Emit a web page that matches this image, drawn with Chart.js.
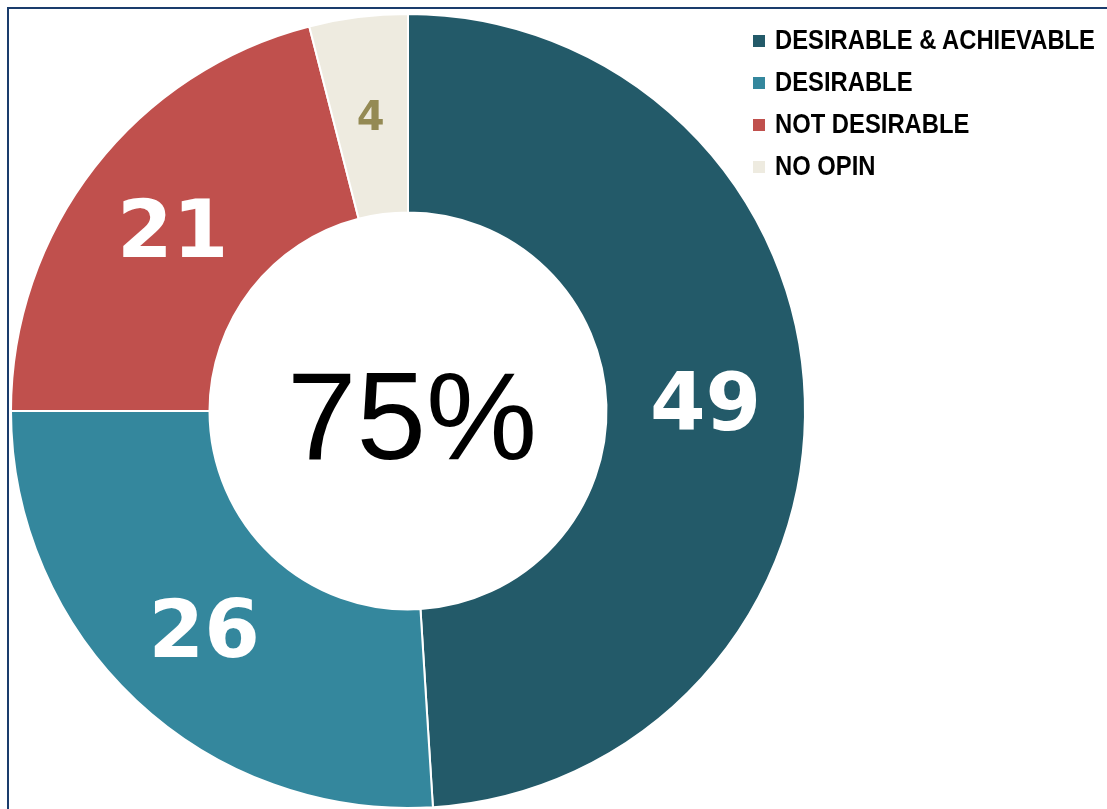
<!DOCTYPE html>
<html>
<head>
<meta charset="utf-8">
<script src="https://cdn.jsdelivr.net/npm/chart.js@4/dist/chart.umd.min.js"></script>
<style>
  html, body { margin: 0; padding: 0; background: #fff; overflow: hidden; }
  #wrap { position: relative; width: 1107px; height: 809px; overflow: hidden; }
  #frame { position: absolute; left: 7px; top: 7px; width: 1200px; height: 900px; border: 2px solid #1A3C6C; }
  #myChart { position: absolute; left: 0; top: 0; }
  #legend { position: absolute; left: 753px; top: 26px; font-family: "Liberation Sans", Arial, sans-serif; font-weight: bold; font-size: 28px; color: #000; }
  #legend div { height: 42px; line-height: 28px; white-space: nowrap; }
  #legend span.box { display: inline-block; width: 12px; height: 12px; margin-right: 10px; vertical-align: 2px; }
  #legend span.txt { display: inline-block; transform: scaleX(0.85); transform-origin: 0 50%; }
</style>
</head>
<body>
<div id="wrap">
  <div id="frame"></div>
  <canvas id="myChart" width="1107" height="809"></canvas>
  <div id="legend"></div>
</div>
<script>
const labels = ['DESIRABLE & ACHIEVABLE', 'DESIRABLE', 'NOT DESIRABLE', 'NO OPIN']
const values = [49, 26, 21, 4]
const colors = ['#235A69', '#34879D', '#C0504D', '#EEEBE0']
const labelColors = ['#ffffff', '#ffffff', '#ffffff', '#948A54']
const labelSizes = [80, 80, 80, 40]
const centerText = '75%'

// draws the numbers on the slices and the big text in the hole
const sliceLabels = {
    id: 'sliceLabels',
    afterDatasetsDraw(chart) {
        const ctx = chart.ctx
        const meta = chart.getDatasetMeta(0)
        ctx.save()
        ctx.textAlign = 'center'
        ctx.textBaseline = 'middle'
        meta.data.forEach((arc, i) => {
            const p = arc.tooltipPosition()
            ctx.fillStyle = labelColors[i]
            ctx.font = 'bold ' + labelSizes[i] + 'px "DejaVu Sans", sans-serif'
            ctx.fillText(values[i], p.x, p.y + (i == 3 ? 4 : 8))
        })
        const c = meta.data[0]
        ctx.fillStyle = '#000'
        ctx.font = '125px "Liberation Sans", Arial, sans-serif'
        ctx.fillText(centerText, c.x + 4, c.y + 14)
        ctx.restore()
    }
}

const ctx = document.getElementById('myChart').getContext('2d')
const myChart = new Chart(ctx, {
    type: 'doughnut',
    data: {
        labels: labels,
        datasets: [{
            data: values,
            backgroundColor: colors,
            borderColor: '#ffffff',
            borderWidth: 2
        }]
    },
    options: {
        responsive: false,
        animation: false,
        cutout: '50%',
        layout: { padding: { left: 10, top: 13, right: 301, bottom: 0 } },
        plugins: {
            legend: { display: false },
            tooltip: { enabled: false }
        }
    },
    plugins: [sliceLabels]
})

const legend = document.getElementById('legend')
for (let i = 0; i < labels.length; i++) {
    const row = document.createElement('div')
    row.innerHTML = '<span class="box" style="background:' + colors[i] + '"></span><span class="txt">' + labels[i].replace('&', '&amp;') + '</span>'
    legend.appendChild(row)
}
</script>
</body>
</html>
